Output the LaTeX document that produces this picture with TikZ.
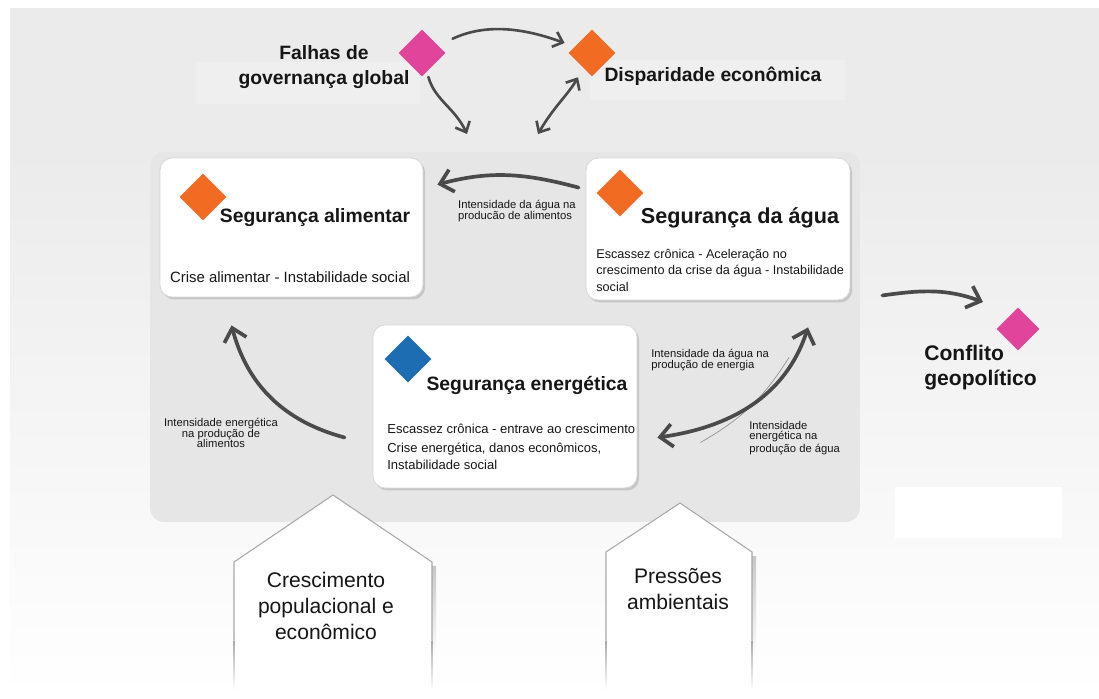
\documentclass[tikz,border=0pt]{standalone}
\usepackage{fontspec}
\setmainfont{Liberation Sans}
\usetikzlibrary{shapes.geometric,arrows.meta,calc,shadows}
\definecolor{fundo}{HTML}{EBEBEB}
\definecolor{painelcor}{HTML}{E6E6E6}
\definecolor{faixacor}{HTML}{EFEFEF}
\definecolor{setacor}{HTML}{4A4A4A}
\definecolor{laranja}{HTML}{F26B23}
\definecolor{rosa}{HTML}{E0449B}
\definecolor{azul}{HTML}{1C6DB2}
\definecolor{texto}{HTML}{161616}
\definecolor{borda}{HTML}{A8A8A8}

\begin{document}
\begin{tikzpicture}[x=0.02cm,y=-0.02cm]
	\tikzset{
		caixa/.style={rectangle, rounded corners=0.24cm, draw=black!15, fill=white, line width=0.5pt, inner sep=0pt,
			drop shadow={shadow xshift=1.2pt, shadow yshift=-1.4pt, opacity=0.35, fill=black!45}},
		losango/.style={diamond, aspect=1, inner sep=0pt, minimum size=0.94cm},
		titulo/.style={font=\bfseries\fontsize{11}{13}\selectfont, text=texto, inner sep=0pt},
		corpo/.style={font=\fontsize{7.2}{9.4}\selectfont, text=texto, align=left, inner sep=0pt},
		rotulo/.style={font=\fontsize{6.4}{6}\selectfont, text=texto, inner sep=0pt},
		casatexto/.style={font=\fontsize{12}{14.7}\selectfont, text=texto, align=center, inner sep=0pt},
		seta/.style={draw=setacor, line width=2.1pt, line cap=round, >={Straight Barb[length=7pt,width=13pt]}, ->},
		setap/.style={draw=setacor, line width=1.5pt, line cap=round, >={Straight Barb[length=5pt,width=9pt]}, ->}
	}

	\useasboundingbox (0,0) rectangle (1099,698);
	\fill[white] (0,0) rectangle (1099,698);
	\fill[fundo] (10,8) rectangle (1099,150);
	\shade[top color=fundo, bottom color=white] (10,150) rectangle (1099,698);
	\fill[faixacor] (197,62) rectangle (420,104);
	\fill[faixacor] (590,60) rectangle (845,100);
	\fill[white] (895,487) rectangle (1062,538);

	\node[fill=painelcor, rounded corners=0.28cm, minimum width=14.2cm, minimum height=7.4cm, inner sep=0pt] (painel) at (505,337) {};

	\fill[white] (234,698) -- (234,562) -- (333,495) -- (432,562) -- (432,698) -- cycle;
	\shade[top color=black!22, bottom color=white] (432,566) rectangle (436,660);
	\draw[borda, line width=0.6pt] (234,640) -- (234,562) -- (333,495) -- (432,562) -- (432,640);
	\shade[top color=borda, bottom color=white] (233.5,640) rectangle (234.5,690);
	\shade[top color=borda, bottom color=white] (431.5,640) rectangle (432.5,690);

	\fill[white] (606,698) -- (606,552) -- (680,503) -- (752,552) -- (752,698) -- cycle;
	\shade[top color=black!22, bottom color=white] (752,556) rectangle (756,660);
	\draw[borda, line width=0.6pt] (606,640) -- (606,552) -- (680,503) -- (752,552) -- (752,640);
	\shade[top color=borda, bottom color=white] (605.5,640) rectangle (606.5,690);
	\shade[top color=borda, bottom color=white] (751.5,640) rectangle (752.5,690);

	\node[caixa, minimum width=5.26cm, minimum height=2.78cm] (alim) at (291.5,227.5) {};
	\node[caixa, minimum width=5.28cm, minimum height=2.84cm] (agua) at (718,229) {};
	\node[caixa, minimum width=5.28cm, minimum height=3.26cm] (energia) at (505,406.5) {};

	\node[losango, fill=rosa] (dFalhas) at (422,53) {};
	\node[losango, fill=laranja] (dDisp) at (592,53) {};
	\node[losango, fill=laranja] (dAlim) at (203,197) {};
	\node[losango, fill=laranja] (dAgua) at (620,193) {};
	\node[losango, fill=azul] (dEnergia) at (408,359) {};
	\node[losango, fill=rosa, minimum size=0.86cm] (dConflito) at (1018,329) {};

	\node[titulo, font=\bfseries\fontsize{11}{14.2}\selectfont, align=center] (tFalhas) at (324,67) {Falhas de\\governança global};
	\node[titulo] (tDisp) at (713,76) {Disparidade econômica};
	\node[titulo, font=\bfseries\fontsize{12}{14.2}\selectfont, align=left, anchor=west] (tConflito) at (924,368) {Conflito\\geopolítico};

	\node[titulo] (tAlim) at (315,218) {Segurança alimentar};
	\node[corpo, font=\fontsize{8.5}{10}\selectfont] (bAlim) at (290,277) {Crise alimentar - Instabilidade social};
	\node[titulo, font=\bfseries\fontsize{12.3}{14}\selectfont] (tAgua) at (740,218) {Segurança da água};
	\node[corpo, anchor=west] (bAgua) at (596,270) {Escassez crônica - Aceleração no\\crescimento da crise da água - Instabilidade\\social};
	\node[titulo] (tEnergia) at (527,385) {Segurança energética};
	\node[corpo, font=\fontsize{7.4}{9.6}\selectfont, anchor=west] (bEnergia) at (387,447) {Escassez crônica - entrave ao crescimento\\[1pt]Crise energética, danos econômicos,\\Instabilidade social};

	\node[casatexto] (tCresc) at (326,606) {Crescimento\\populacional e\\econômico};
	\node[casatexto] (tPress) at (678,589) {Pressões\\ambientais};

	\node[rotulo, align=left] (lAguaAlim) at (517,211) {Intensidade da água na\\producão de alimentos};
	\node[rotulo, align=center] (lEnergAlim) at (221,433) {Intensidade energética\\na produção de\\alimentos};
	\node[rotulo, align=left, anchor=west] (lAguaEnerg) at (651,360) {Intensidade da água na\\produção de energia};
	\node[rotulo, align=left, anchor=west] (lEnergAgua) at (749,438) {Intensidade\\energética na\\produção de água};

	\coordinate (nexoA) at (467,134);
	\coordinate (nexoB) at (538,134);

	\draw[setap, shorten <=9pt, shorten >=6pt] (dFalhas) to[out=25,in=160] (dDisp);
	\draw[setap, shorten <=3pt] (dFalhas) to[out=-75,in=115] (nexoA);
	\draw[setap, <->, shorten >=6pt] (nexoB) to[out=60,in=-120] (dDisp);

	\draw[seta] ($(agua.north west)+(-7,30)$) to[out=165,in=15] ($(alim.north east)+(14,27)$);
	\draw[seta] ($(energia.west)+(-28,31)$) to[out=165,in=-75] ($(alim.south)+(-60,28)$);
	\draw[setacor!60, line width=0.4pt] ($(energia.east)+(63,36)$) to[bend right=14] ($(agua.south)+(71,57)$);
	\draw[seta, <->] ($(energia.east)+(20,31)$) to[out=8,in=-108] ($(agua.south)+(90,27)$);
	\draw[seta] ($(agua.south east)+(32,-5)$) to[out=8,in=160] ($(dConflito)+(-35,-27)$);
\end{tikzpicture}
\end{document}
